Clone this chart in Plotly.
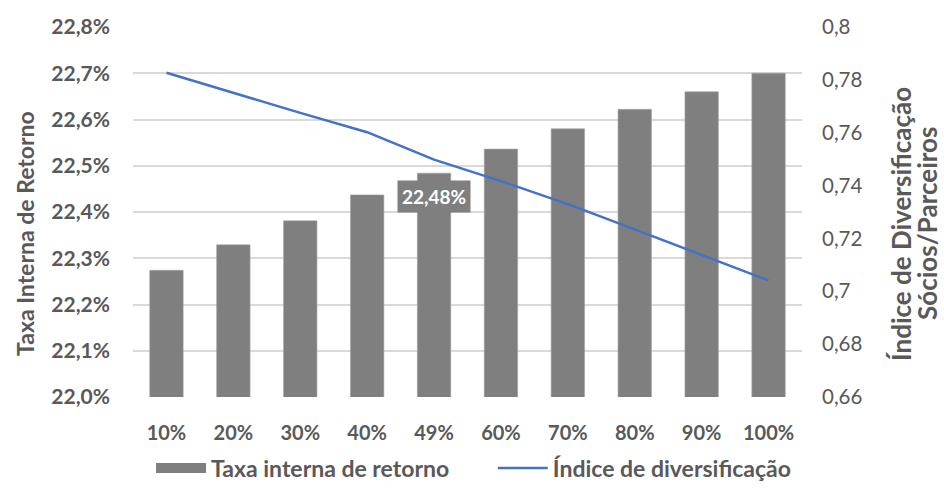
import plotly.graph_objects as go

categories = ["10%", "20%", "30%", "40%", "49%", "60%", "70%", "80%", "90%", "100%"]
tir_values = [0.22274, 0.22329, 0.22381, 0.22437, 0.22484, 0.22536, 0.22580, 0.22622, 0.22660, 0.22700]
div_values = [0.7827, 0.7750, 0.7675, 0.7602, 0.7498, 0.7417, 0.7330, 0.7234, 0.7139, 0.7041]
left_ticks = [0.220, 0.221, 0.222, 0.223, 0.224, 0.225, 0.226, 0.227, 0.228]
right_ticks = [0.66, 0.68, 0.70, 0.72, 0.74, 0.76, 0.78, 0.80]
right_ticktext = ["0,66", "0,68", "0,7", "0,72", "0,74", "0,76", "0,78", "0,8"]
label_index = 4
bar_name = "Taxa interna de retorno"
line_name = "Índice de diversificação"
left_title = "Taxa Interna de Retorno"
right_title_lines = ["Índice de Diversificação", "Sócios/Parceiros"]

FONT = "Lato"
GRAY = "#595959"
BAR_COLOR = "#7f7f7f"
LINE_COLOR = "#4472C4"

fig = go.Figure()
fig.add_trace(go.Bar(
    x=categories, y=tir_values, name=bar_name, showlegend=False,
    marker=dict(color=BAR_COLOR, line=dict(color="#a6a6a6", width=0.6)),
    yaxis="y",
))
# legend swatch for the bars (wide rectangle, like the original)
fig.add_trace(go.Scatter(
    x=[None], y=[None], name=bar_name, mode="lines",
    line=dict(color=BAR_COLOR, width=11), yaxis="y", legend="legend",
))
fig.add_trace(go.Scatter(
    x=categories, y=div_values, name=line_name,
    mode="lines", line=dict(color=LINE_COLOR, width=2.5),
    yaxis="y2", legend="legend2",
))

lbl = f"{tir_values[label_index]*100:.2f}%".replace(".", ",")
fig.add_annotation(
    x=categories[label_index], y=tir_values[label_index], xref="x", yref="y",
    text=f"<b>{lbl}</b>", showarrow=False, yanchor="middle", yshift=-23,
    bgcolor=BAR_COLOR, borderpad=4,
    font=dict(family=FONT, size=19, color="white"),
)

# axis titles as rotated annotations (positioned like the original)
fig.add_annotation(
    x=25, y=490 - 234, xref="paper", yref="paper", text=f"<b>{left_title}</b>",
    textangle=-90, showarrow=False, xanchor="center", yanchor="middle",
    font=dict(family=FONT, size=23, color=GRAY, weight="bold"),
)
for i, (xc, t) in enumerate(zip([901, 927], right_title_lines)):
    fig.add_annotation(
        x=xc, y=490 - 224, xref="paper", yref="paper", text=f"<b>{t}</b>",
        textangle=-90, showarrow=False, xanchor="center", yanchor="middle",
        font=dict(family=FONT, size=26, color=GRAY, weight="bold"),
    )

legend_common = dict(
    orientation="h", xref="container", yref="container",
    xanchor="left", y=(490 - 468) / 490, yanchor="middle",
    font=dict(family=FONT, size=23, color=GRAY, weight="bold"),
    itemwidth=50,
)

fig.update_layout(
    width=944, height=490,
    margin=dict(l=133, r=142, t=27, b=93, autoexpand=False),
    plot_bgcolor="white", paper_bgcolor="white",
    separators=",.",
    bargap=0.5,
    font=dict(family=FONT, color=GRAY),
    xaxis=dict(
        showgrid=False, showline=False, zeroline=False,
        tickfont=dict(family=FONT, size=20, color=GRAY, weight="bold"),
        ticklabelstandoff=22,
    ),
    yaxis=dict(
        range=[0.220, 0.228], tickvals=left_ticks, tickformat=".1%",
        showgrid=True, gridcolor="#d9d9d9", gridwidth=1.5, zeroline=False,
        tickfont=dict(family=FONT, size=21, color=GRAY, weight="bold"),
        ticklabelstandoff=22,
    ),
    yaxis2=dict(
        range=[0.66, 0.80], tickvals=right_ticks, ticktext=right_ticktext,
        overlaying="y", side="right", showgrid=False, zeroline=False,
        tickfont=dict(family=FONT, size=20.5, color=GRAY),
        ticklabelstandoff=19,
    ),
    legend=dict(x=0.160, **legend_common),
    legend2=dict(x=0.522, **legend_common),
    showlegend=True,
)

# convert pixel positions of title annotations to paper fractions
pw = 944 - 133 - 142
ph = 490 - 27 - 93
for ann in fig.layout.annotations[1:]:
    ann.x = (ann.x - 133) / pw
    ann.y = (ann.y - 93) / ph

fig.write_html("out.html")
